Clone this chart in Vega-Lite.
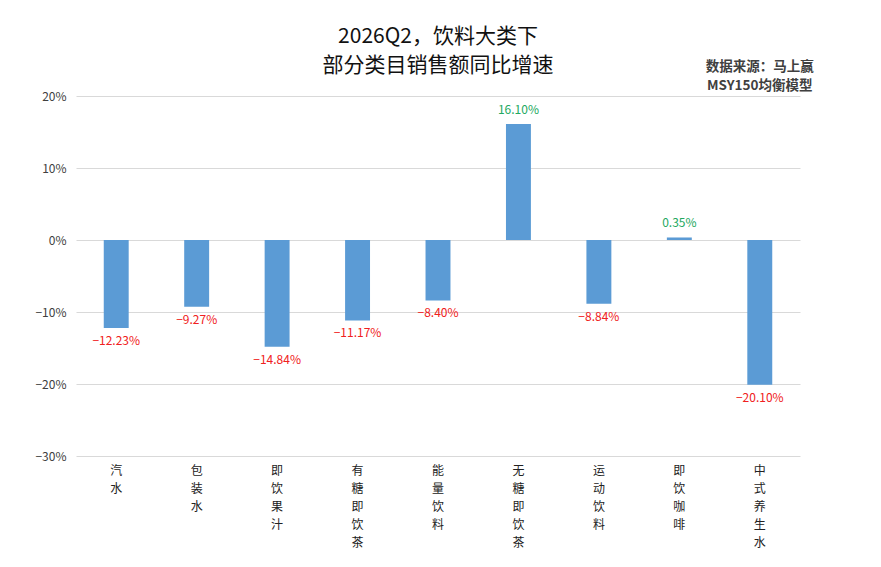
{
  "$schema": "https://vega.github.io/schema/vega-lite/v6.json",
  "width": 724,
  "height": 360,
  "autosize": {"type": "none"},
  "padding": {"left": 76, "top": 96, "right": 81, "bottom": 111},
  "background": "white",
  "title": {
    "text": ["2026Q2，饮料大类下", "部分类目销售额同比增速"],
    "fontSize": 21,
    "fontWeight": "normal",
    "color": "#111111",
    "lineHeight": 29,
    "anchor": "middle",
    "offset": -16
  },
  "data": {
    "values": [
      {"category": "汽水", "growth": -0.1223},
      {"category": "包装水", "growth": -0.0927},
      {"category": "即饮果汁", "growth": -0.1484},
      {"category": "有糖即饮茶", "growth": -0.1117},
      {"category": "能量饮料", "growth": -0.084},
      {"category": "无糖即饮茶", "growth": 0.161},
      {"category": "运动饮料", "growth": -0.0884},
      {"category": "即饮咖啡", "growth": 0.0035},
      {"category": "中式养生水", "growth": -0.201}
    ]
  },
  "encoding": {
    "x": {
      "field": "category",
      "type": "nominal",
      "sort": null,
      "scale": {"paddingInner": 0, "paddingOuter": 0},
      "axis": {
        "title": null,
        "labelAngle": 0,
        "labelExpr": "split(datum.label, '')",
        "labelBaseline": "top",
        "labelPadding": 9,
        "labelFontSize": 12,
        "labelLineHeight": 18,
        "labelColor": "#222222",
        "ticks": false,
        "domain": false,
        "grid": false
      }
    },
    "y": {
      "field": "growth",
      "type": "quantitative",
      "scale": {"domain": [-0.3, 0.2], "nice": false},
      "axis": {
        "title": null,
        "format": ".0%",
        "values": [-0.3, -0.2, -0.1, 0, 0.1, 0.2],
        "labelFontSize": 12,
        "labelColor": "#404040",
        "labelPadding": 10,
        "ticks": false,
        "domain": false,
        "grid": true,
        "gridColor": "#d9d9d9"
      }
    }
  },
  "layer": [
    {
      "mark": {"type": "bar", "color": "#5b9bd5", "width": {"band": 0.31}}
    },
    {
      "transform": [{"filter": "datum.growth < 0"}],
      "mark": {"type": "text", "baseline": "top", "dy": 8, "fontSize": 12, "color": "#f02020"},
      "encoding": {"text": {"field": "growth", "format": ".2%"}}
    },
    {
      "transform": [{"filter": "datum.growth >= 0"}],
      "mark": {"type": "text", "baseline": "bottom", "dy": -7, "fontSize": 12, "color": "#22a860"},
      "encoding": {"text": {"field": "growth", "format": ".2%"}}
    },
    {
      "transform": [{"filter": "datum.category === '中式养生水'"}],
      "mark": {"type": "text", "fontSize": 13.5, "fontWeight": "bold", "color": "#404040", "lineHeight": 19, "baseline": "middle", "clip": false},
      "encoding": {
        "y": {"datum": 0.24},
        "text": {"value": ["数据来源：马上赢", "MSY150均衡模型"]}
      }
    }
  ],
  "config": {
    "font": "Noto Sans CJK SC",
    "view": {"stroke": null}
  }
}
